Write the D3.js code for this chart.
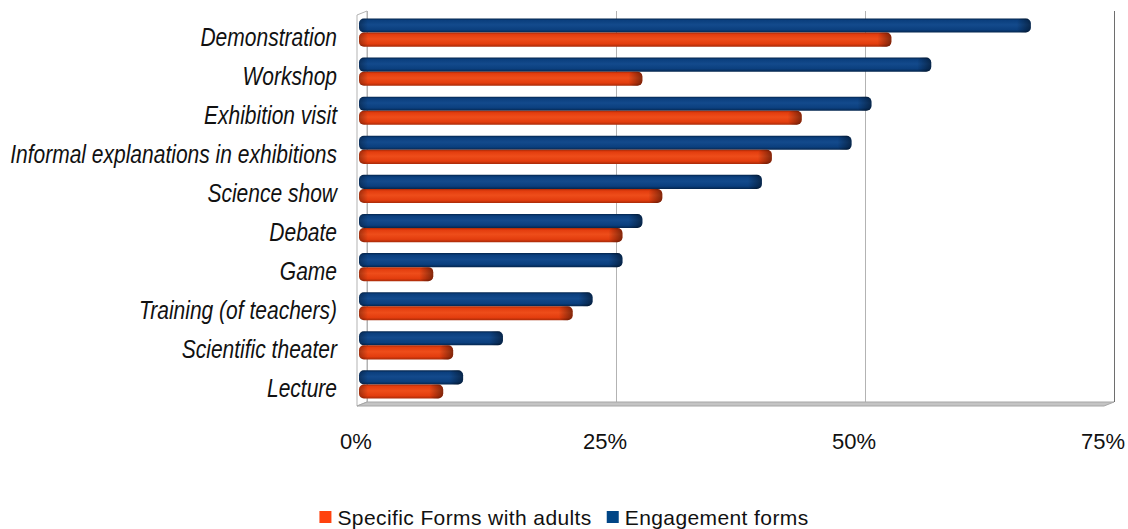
<!DOCTYPE html>
<html>
<head>
<meta charset="utf-8">
<script src="https://cdn.jsdelivr.net/npm/d3@7"></script>
<style>
  html, body { margin: 0; padding: 0; background: #ffffff; }
  svg { display: block; }
  text { font-family: "Liberation Sans", Arial, sans-serif; fill: #111; }
</style>
</head>
<body>
<svg id="chart" width="1128" height="529"></svg>
<script>
// Activity categories, top to bottom
const categories = [
  "Demonstration",
  "Workshop",
  "Exhibition visit",
  "Informal explanations in exhibitions",
  "Science show",
  "Debate",
  "Game",
  "Training (of teachers)",
  "Scientific theater",
  "Lecture"
];

// Percentages per series
const engagementForms = [67, 57, 51, 49, 40, 28, 26, 23, 14, 10];
const specificFormsAdults = [53, 28, 44, 41, 30, 26, 7, 21, 9, 8];

const seriesNames = ["Engagement forms", "Specific Forms with adults"];
const legendOrder = ["Specific Forms with adults", "Engagement forms"];
const tickValues = [0, 25, 50, 75];

const svg = d3.select("#chart");
const W = 1128, H = 529;

// 3D box geometry: front plane and a shallow depth offset
const depthX = 10, depthY = -4;
const frontLeft = 357, frontRight = 1104;
const frontTop = 15, frontBottom = 406;

const xFront = d3.scaleLinear().domain([0, 75]).range([frontLeft, frontRight]);
const xBack = d3.scaleLinear().domain([0, 75]).range([frontLeft + depthX, frontRight + depthX]);
// bars sit a little behind the front plane
const xBar = d3.scaleLinear().domain([0, 75]).range([frontLeft + 6.5, frontRight + 6.5]);

const y = d3.scaleBand()
  .domain(categories)
  .range([frontTop - 2, frontBottom - 2])
  .paddingInner(0.28)
  .paddingOuter(0.14);

const ySeries = d3.scaleBand()
  .domain(seriesNames)
  .range([0, y.bandwidth()]);

const colors = {
  "Engagement forms": { base: "#0b3f7e", light: "#134a8c", dark: "#04254d", swatch: "#004586" },
  "Specific Forms with adults": { base: "#e33d0e", light: "#ee4d1a", dark: "#a82a08", swatch: "#ff420e" }
};

const defs = svg.append("defs");
Object.entries(colors).forEach(([name, c], i) => {
  const g = defs.append("linearGradient")
    .attr("id", "body" + i).attr("x1", 0).attr("y1", 0).attr("x2", 0).attr("y2", 1);
  g.append("stop").attr("offset", "0%").attr("stop-color", c.dark);
  g.append("stop").attr("offset", "14%").attr("stop-color", c.base);
  g.append("stop").attr("offset", "45%").attr("stop-color", c.light);
  g.append("stop").attr("offset", "80%").attr("stop-color", c.base);
  g.append("stop").attr("offset", "100%").attr("stop-color", c.dark);
  c.fill = "url(#body" + i + ")";
});
const endGrad = defs.append("linearGradient")
  .attr("id", "endShade").attr("x1", 0).attr("y1", 0).attr("x2", 1).attr("y2", 0);
endGrad.append("stop").attr("offset", "0%").attr("stop-color", "#000").attr("stop-opacity", 0);
endGrad.append("stop").attr("offset", "100%").attr("stop-color", "#000").attr("stop-opacity", 0.45);
const startGrad = defs.append("linearGradient")
  .attr("id", "startShade").attr("x1", 0).attr("y1", 0).attr("x2", 1).attr("y2", 0);
startGrad.append("stop").attr("offset", "0%").attr("stop-color", "#000").attr("stop-opacity", 0.3);
startGrad.append("stop").attr("offset", "100%").attr("stop-color", "#000").attr("stop-opacity", 0);

// ---- walls ----
const walls = svg.append("g");
// left wall
walls.append("path")
  .attr("d", `M${xFront(0)},${frontTop} L${xBack(0)},${frontTop + depthY} L${xBack(0)},${frontBottom + depthY} L${xFront(0)},${frontBottom} Z`)
  .attr("fill", "#ffffff").attr("stroke", "#b3b3b3").attr("stroke-width", 1);
// vertical gridlines on the back wall
walls.selectAll("line.grid")
  .data(tickValues)
  .join("line")
  .attr("class", "grid")
  .attr("x1", d => xBack(d) + 0.5).attr("x2", d => xBack(d) + 0.5)
  .attr("y1", frontTop + depthY).attr("y2", frontBottom + depthY)
  .attr("stroke", d => d === 75 ? "#6e6e6e" : "#b3b3b3")
  .attr("stroke-width", 1);
// floor
walls.append("path")
  .attr("d", `M${xFront(0)},${frontBottom} L${xBack(0)},${frontBottom + depthY} L${xBack(75)},${frontBottom + depthY} L${xFront(75)},${frontBottom} Z`)
  .attr("fill", "#c4c4c4").attr("stroke", "#a6a6a6").attr("stroke-width", 1);

// ---- bars ----
const rows = categories.map((cat, i) => ({
  cat,
  values: [
    { series: "Engagement forms", value: engagementForms[i] },
    { series: "Specific Forms with adults", value: specificFormsAdults[i] }
  ]
}));

const groups = svg.append("g").selectAll("g")
  .data(rows)
  .join("g")
  .attr("transform", d => `translate(0,${y(d.cat)})`);

const barStart = xFront(0) + 2;
const bars = groups.selectAll("g.bar")
  .data(d => d.values)
  .join("g")
  .attr("class", "bar");

bars.append("rect")
  .attr("x", barStart)
  .attr("y", d => ySeries(d.series))
  .attr("width", d => xBar(d.value) - barStart)
  .attr("height", ySeries.bandwidth())
  .attr("rx", 5).attr("ry", 5)
  .attr("fill", d => colors[d.series].fill);

bars.append("rect")
  .attr("x", barStart)
  .attr("y", d => ySeries(d.series))
  .attr("width", 9)
  .attr("height", ySeries.bandwidth())
  .attr("rx", 5).attr("ry", 5)
  .attr("fill", "url(#startShade)");

bars.append("rect")
  .attr("x", d => Math.max(barStart, xBar(d.value) - 14))
  .attr("y", d => ySeries(d.series))
  .attr("width", d => Math.min(14, xBar(d.value) - barStart))
  .attr("height", ySeries.bandwidth())
  .attr("rx", 5).attr("ry", 5)
  .attr("fill", "url(#endShade)");

// ---- category labels (condensed italic) ----
const labelRight = 337;
const labelG = svg.append("g");
const labels = labelG.selectAll("text")
  .data(categories)
  .join("text")
  .attr("text-anchor", "end")
  .attr("font-style", "italic")
  .attr("font-size", 26)
  .attr("x", 0)
  .attr("y", d => y(d) + y.bandwidth() / 2 + 13)
  .text(d => d);
const longest = d3.max(labels.nodes(), n => n.getComputedTextLength());
const squeeze = 327 / longest;
labelG.attr("transform", `translate(${labelRight},0) scale(${squeeze},1)`);

// ---- value axis labels ----
svg.append("g").selectAll("text")
  .data(tickValues)
  .join("text")
  .attr("text-anchor", "middle")
  .attr("font-size", 22)
  .attr("x", d => xFront(d) - 1)
  .attr("y", 449)
  .text(d => d + "%");

// ---- legend ----
const legend = svg.append("g");
const swatch = 12, gapText = 6, gapItem = 15;
let lx = 0;
legendOrder.forEach(name => {
  const g = legend.append("g").attr("transform", `translate(${lx},0)`);
  g.append("rect").attr("x", 0).attr("y", -14).attr("width", swatch).attr("height", swatch)
    .attr("fill", colors[name].swatch);
  const t = g.append("text").attr("x", swatch + gapText).attr("y", 0)
    .attr("font-size", 21).attr("letter-spacing", 0.4).text(name);
  lx += swatch + gapText + t.node().getComputedTextLength() + gapItem;
});
const legendWidth = lx - gapItem;
legend.attr("transform", `translate(${(W - legendWidth) / 2},525)`);
</script>
</body>
</html>
